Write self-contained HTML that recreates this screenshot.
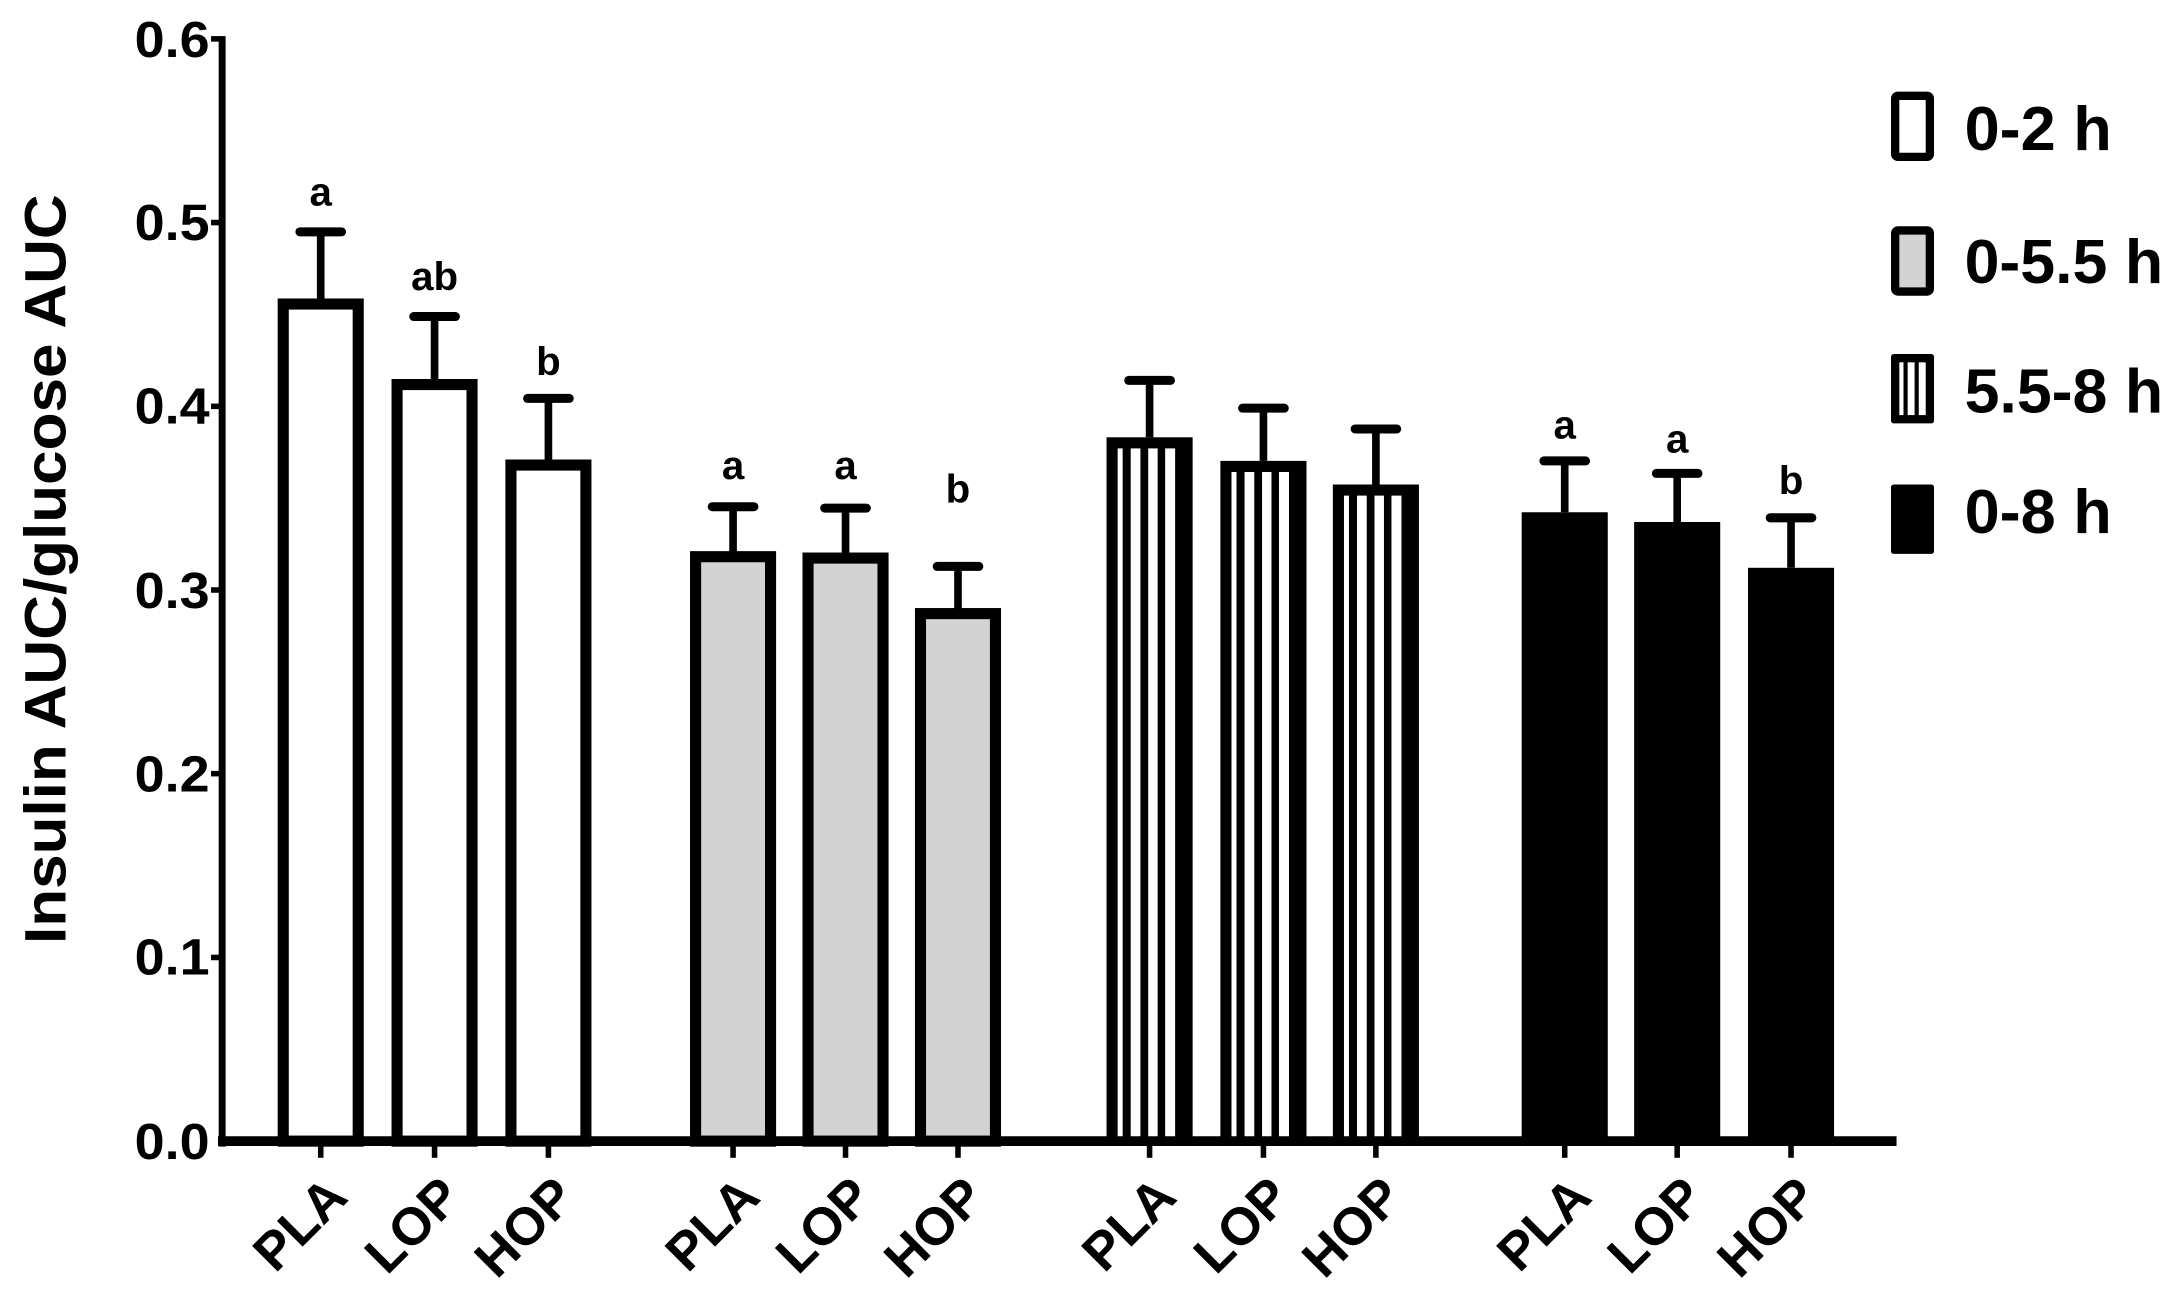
<!DOCTYPE html>
<html><head><meta charset="utf-8"><style>
html,body{margin:0;padding:0;background:#fff;}
svg{display:block;}
text{font-family:"Liberation Sans",Arial,sans-serif;font-weight:bold;fill:#000;}
</style></head><body>
<svg width="2177" height="1298" viewBox="0 0 1568 935" preserveAspectRatio="none">
<rect width="1568" height="935" fill="#fff"/>
<line x1="160" y1="26" x2="160" y2="826" stroke="#000" stroke-width="5"/>
<g stroke="#000" stroke-width="4">
<line x1="152" y1="28" x2="160" y2="28"/>
<line x1="152" y1="160.3" x2="160" y2="160.3"/>
<line x1="152" y1="292.7" x2="160" y2="292.7"/>
<line x1="152" y1="425" x2="160" y2="425"/>
<line x1="152" y1="557.3" x2="160" y2="557.3"/>
<line x1="152" y1="689.7" x2="160" y2="689.7"/>
</g>
<g font-size="37" text-anchor="end">
<text x="151" y="41" textLength="54" lengthAdjust="spacingAndGlyphs">0.6</text>
<text x="151" y="173" textLength="54" lengthAdjust="spacingAndGlyphs">0.5</text>
<text x="151" y="305" textLength="54" lengthAdjust="spacingAndGlyphs">0.4</text>
<text x="151" y="438" textLength="54" lengthAdjust="spacingAndGlyphs">0.3</text>
<text x="151" y="570" textLength="54" lengthAdjust="spacingAndGlyphs">0.2</text>
<text x="151" y="702" textLength="54" lengthAdjust="spacingAndGlyphs">0.1</text>
<text x="151" y="835" textLength="54" lengthAdjust="spacingAndGlyphs">0.0</text>
</g>
<text transform="translate(47,410) rotate(-90)" font-size="42" text-anchor="middle" textLength="540" lengthAdjust="spacingAndGlyphs">Insulin AUC/glucose AUC</text>

<rect x="204" y="219" width="54" height="603" fill="#fff" stroke="#000" stroke-width="8"/>
<rect x="286" y="277" width="54" height="545" fill="#fff" stroke="#000" stroke-width="8"/>
<rect x="368" y="335" width="54" height="487" fill="#fff" stroke="#000" stroke-width="8"/>
<rect x="501" y="401" width="54" height="421" fill="#d3d3d3" stroke="#000" stroke-width="8"/>
<rect x="582" y="402" width="54" height="420" fill="#d3d3d3" stroke="#000" stroke-width="8"/>
<rect x="663" y="442" width="54" height="380" fill="#d3d3d3" stroke="#000" stroke-width="8"/>
<rect x="1096" y="369" width="62" height="453" fill="#000"/>
<rect x="1177" y="376" width="62" height="446" fill="#000"/>
<rect x="1259" y="409" width="62" height="413" fill="#000"/>
<g>
<rect x="797" y="315" width="62" height="507" fill="#000"/>
<g fill="#fff"><rect x="805" y="323" width="3.6" height="499"/><rect x="814.4" y="323" width="7" height="499"/><rect x="827" y="323" width="6.8" height="499"/><rect x="839.2" y="323" width="7.2" height="499"/></g>
<rect x="879" y="332" width="62" height="490" fill="#000"/>
<g fill="#fff"><rect x="887" y="340" width="3.6" height="482"/><rect x="896.4" y="340" width="7" height="482"/><rect x="909" y="340" width="6.8" height="482"/><rect x="921.2" y="340" width="7.2" height="482"/></g>
<rect x="960" y="349" width="62" height="473" fill="#000"/>
<g fill="#fff"><rect x="968" y="357" width="3.6" height="465"/><rect x="977.4" y="357" width="7" height="465"/><rect x="990" y="357" width="6.8" height="465"/><rect x="1002.2" y="357" width="7.2" height="465"/></g>
</g>

<g stroke="#000" stroke-width="5.5">
<line x1="231" y1="219" x2="231" y2="167"/>
<line x1="313" y1="277" x2="313" y2="228"/>
<line x1="395" y1="335" x2="395" y2="287"/>
<line x1="528" y1="401" x2="528" y2="365"/>
<line x1="609" y1="402" x2="609" y2="366"/>
<line x1="690" y1="442" x2="690" y2="408"/>
<line x1="828" y1="315" x2="828" y2="274"/>
<line x1="910" y1="332" x2="910" y2="294"/>
<line x1="991" y1="349" x2="991" y2="309"/>
<line x1="1127" y1="369" x2="1127" y2="332"/>
<line x1="1208" y1="376" x2="1208" y2="341"/>
<line x1="1290" y1="409" x2="1290" y2="373"/>
</g>
<g stroke="#000" stroke-width="6.5" stroke-linecap="round">
<line x1="216" y1="167" x2="246" y2="167"/>
<line x1="298" y1="228" x2="328" y2="228"/>
<line x1="380" y1="287" x2="410" y2="287"/>
<line x1="513" y1="365" x2="543" y2="365"/>
<line x1="594" y1="366" x2="624" y2="366"/>
<line x1="675" y1="408" x2="705" y2="408"/>
<line x1="813" y1="274" x2="843" y2="274"/>
<line x1="895" y1="294" x2="925" y2="294"/>
<line x1="976" y1="309" x2="1006" y2="309"/>
<line x1="1112" y1="332" x2="1142" y2="332"/>
<line x1="1193" y1="341" x2="1223" y2="341"/>
<line x1="1275" y1="373" x2="1305" y2="373"/>
</g>
<g font-size="29" text-anchor="middle">
<text x="231" y="148">a</text>
<text x="313" y="209">ab</text>
<text x="395" y="270">b</text>
<text x="528" y="345">a</text>
<text x="609" y="345">a</text>
<text x="690" y="362">b</text>
<text x="1127" y="316">a</text>
<text x="1208" y="326">a</text>
<text x="1290" y="356">b</text>
</g>

<line x1="157" y1="822" x2="1366" y2="822" stroke="#000" stroke-width="7"/>
<g stroke="#000" stroke-width="4">
<line x1="231" y1="822" x2="231" y2="834"/><line x1="313" y1="822" x2="313" y2="834"/><line x1="395" y1="822" x2="395" y2="834"/>
<line x1="528" y1="822" x2="528" y2="834"/><line x1="609" y1="822" x2="609" y2="834"/><line x1="690" y1="822" x2="690" y2="834"/>
<line x1="828" y1="822" x2="828" y2="834"/><line x1="910" y1="822" x2="910" y2="834"/><line x1="991" y1="822" x2="991" y2="834"/>
<line x1="1127" y1="822" x2="1127" y2="834"/><line x1="1208" y1="822" x2="1208" y2="834"/><line x1="1290" y1="822" x2="1290" y2="834"/>
</g>
<g font-size="38" text-anchor="end">
<text transform="translate(252,864) rotate(-45)">PLA</text>
<text transform="translate(334,864) rotate(-45)">LOP</text>
<text transform="translate(416,864) rotate(-45)">HOP</text>
<text transform="translate(549,864) rotate(-45)">PLA</text>
<text transform="translate(630,864) rotate(-45)">LOP</text>
<text transform="translate(711,864) rotate(-45)">HOP</text>
<text transform="translate(849,864) rotate(-45)">PLA</text>
<text transform="translate(931,864) rotate(-45)">LOP</text>
<text transform="translate(1012,864) rotate(-45)">HOP</text>
<text transform="translate(1148,864) rotate(-45)">PLA</text>
<text transform="translate(1229,864) rotate(-45)">LOP</text>
<text transform="translate(1311,864) rotate(-45)">HOP</text>
</g>

<rect x="1365" y="69" width="25" height="44" fill="#fff" stroke="#000" stroke-width="6" rx="2"/>
<rect x="1365" y="166" width="25" height="44" fill="#d3d3d3" stroke="#000" stroke-width="6" rx="2"/>
<rect x="1362" y="255" width="31" height="50" fill="#000" rx="2"/>
<g fill="#fff"><rect x="1368" y="261" width="3" height="38"/><rect x="1374" y="261" width="5" height="38"/><rect x="1382" y="261" width="5" height="38"/></g>
<rect x="1362" y="349" width="31" height="50" fill="#000" rx="2"/>
<g font-size="45">
<text x="1415" y="108" textLength="106" lengthAdjust="spacingAndGlyphs">0-2 h</text>
<text x="1415" y="204" textLength="143" lengthAdjust="spacingAndGlyphs">0-5.5 h</text>
<text x="1415" y="297" textLength="143" lengthAdjust="spacingAndGlyphs">5.5-8 h</text>
<text x="1415" y="384" textLength="106" lengthAdjust="spacingAndGlyphs">0-8 h</text>
</g>
</svg>
</body></html>
